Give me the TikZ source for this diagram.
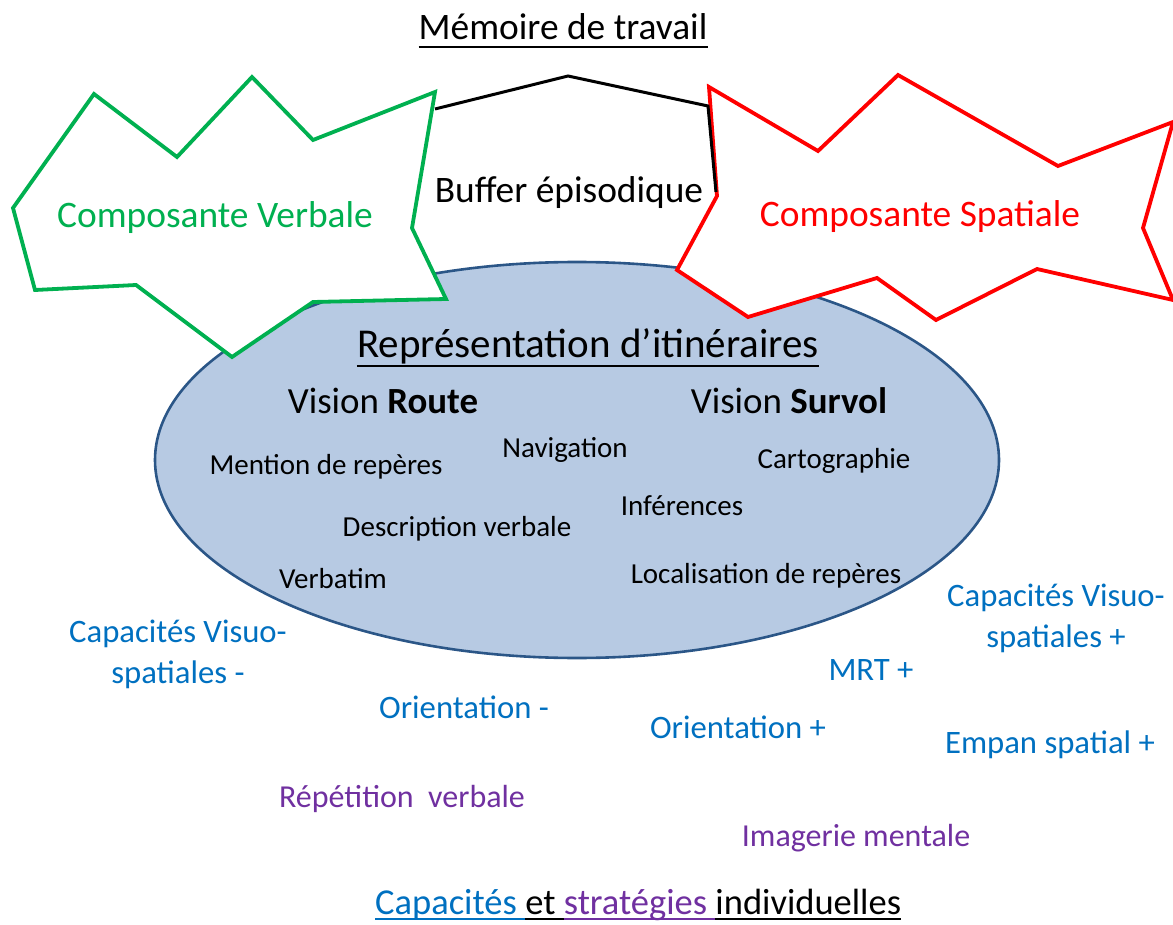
\documentclass[tikz,border=0pt]{standalone}
\usepackage{fontspec}
\usetikzlibrary{shapes.geometric}
\setmainfont{Carlito}
\definecolor{cgreen}{HTML}{00B050}
\definecolor{cred}{HTML}{FF0000}
\definecolor{cblue}{HTML}{0070C0}
\definecolor{cpurple}{HTML}{7030A0}
\definecolor{efill}{HTML}{B7CAE3}
\definecolor{eline}{HTML}{2B5687}
\begin{document}
\begin{tikzpicture}[x=1pt,y=-1pt,
  txtbox/.style={inner sep=0pt,anchor=base},
  ttlbox/.style={txtbox,font=\fontsize{37.4}{40}\selectfont},
  compbox/.style={txtbox,font=\fontsize{37.4}{40}\selectfont},
  itembox/.style={txtbox,font=\fontsize{29}{32}\selectfont},
  visbox/.style={txtbox,font=\fontsize{36.9}{40}\selectfont},
  capbox/.style={txtbox,font=\fontsize{32.7}{41}\selectfont,text=cblue,align=center},
  stratbox/.style={txtbox,font=\fontsize{32}{36}\selectfont,text=cpurple},
  ulline/.style={line width=2.2pt},
  shapeline/.style={line width=3.8pt,line join=miter,fill=white}]
\useasboundingbox (0,0) rectangle (1173,925);
% ellipse
\node[ellipse,draw=eline,fill=efill,line width=2.6pt,minimum width=844pt,minimum height=396pt,inner sep=0pt] (rep) at (577,460) {};
% green verbal component
\draw[shapeline,draw=cgreen] (94,94) -- (177,157) -- (252,77) -- (313,140) -- (435,92) -- (412,228) -- (446,299) -- (313,302) -- (232,357) -- (136,285) -- (35,290) -- (13,208) -- cycle;
% red spatial component
\draw[shapeline,draw=cred] (709,87) -- (818,151) -- (898,75) -- (1058,166) -- (1173,122) -- (1143,228) -- (1173,300) -- (1037,269) -- (936,320) -- (877,278) -- (748,317) -- (677,270) -- (717,196) -- cycle;
% episodic buffer outline
\coordinate (b1) at (435,109);
\coordinate (b2) at (568,76);
\coordinate (b3) at (708,106);
\coordinate (b4) at (716,192);
\draw[line width=3pt,line join=miter] (b1) -- (b2) -- (b3) -- (b4);
% titles
\node[ttlbox] (mem) at (563,40) {Mémoire de travail};
\draw[ulline] ([yshift=-7pt]mem.base west) -- ([yshift=-7pt]mem.base east);
\node[compbox,text=cgreen] (verb) at (215,228) {Composante Verbale};
\node[compbox,text=cred] (spat) at (920,227) {Composante Spatiale};
\node[compbox] (buf) at (569,203) {Buffer épisodique};
\node[ttlbox,font=\fontsize{41}{44}\selectfont] (repti) at (588,357) {Représentation d’itinéraires};
\draw[ulline] ([yshift=-9pt]repti.base west) -- ([yshift=-9pt]repti.base east);
\node[visbox] (route) at (383,413) {Vision \textbf{Route}};
\node[visbox] (survol) at (789,413) {Vision \textbf{Survol}};
% inner items
\node[itembox] (mention) at (326,474) {Mention de repères};
\node[itembox] (navig) at (565,457) {Navigation};
\node[itembox] (carto) at (834,468) {Cartographie};
\node[itembox] (infer) at (682,515) {Inférences};
\node[itembox] (descr) at (457,536) {Description verbale};
\node[itembox] (verbat) at (333,588) {Verbatim};
\node[itembox] (local) at (766,583) {Localisation de repères};
% capacities
\node[capbox] (vsm) at (178,683) {Capacités Visuo-\\spatiales -};
\node[capbox] (orm) at (464,718) {Orientation -};
\node[stratbox] (repv) at (402,807) {Répétition\ \ verbale};
\node[capbox] (vsp) at (1056,647) {Capacités Visuo-\\spatiales +};
\node[capbox] (mrt) at (871,680) {MRT +};
\node[capbox] (orp) at (738,738) {Orientation +};
\node[capbox] (empan) at (1050,753) {Empan spatial +};
\node[stratbox] (imag) at (856,846) {Imagerie mentale};
% bottom title
\begin{scope}[every node/.style={txtbox,anchor=base west,font=\fontsize{36.5}{40}\selectfont}]
\node[text=cblue] (w1) at (375,914) {Capacités};
\node (w2) at ([xshift=8pt]w1.base east) {et};
\node[text=cpurple] (w3) at ([xshift=8pt]w2.base east) {stratégies};
\node (w4) at ([xshift=8pt]w3.base east) {individuelles};
\end{scope}
\draw[ulline,cblue] ([yshift=-5pt]w1.base west) -- ([yshift=-5pt]w2.base west);
\draw[ulline] ([yshift=-5pt]w2.base west) -- ([yshift=-5pt]w3.base west);
\draw[ulline,cpurple] ([yshift=-5pt]w3.base west) -- ([yshift=-5pt]w4.base west);
\draw[ulline] ([yshift=-5pt]w4.base west) -- ([yshift=-5pt]w4.base east);
\end{tikzpicture}
\end{document}
